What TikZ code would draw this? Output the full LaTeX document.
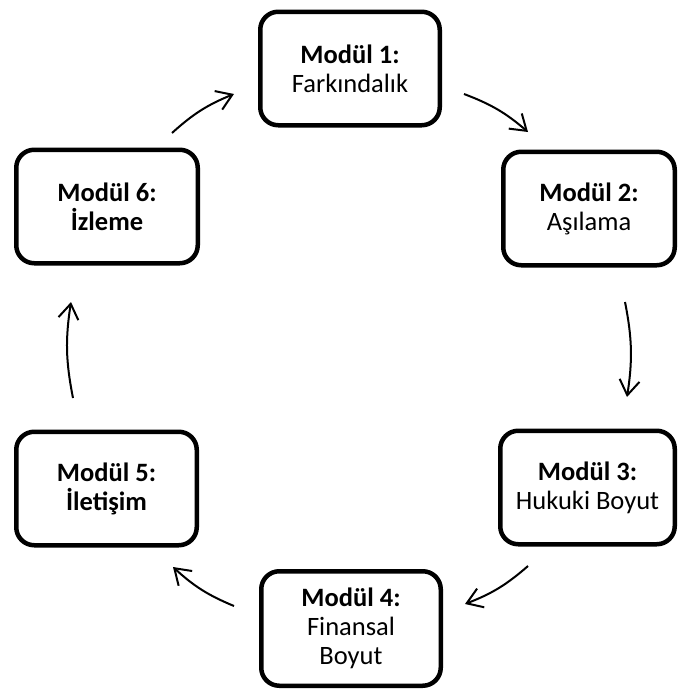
\documentclass[tikz,border=0pt]{standalone}
\usepackage{fontspec}
\setmainfont{Carlito}
\usetikzlibrary{arrows.meta}
\begin{document}
\begin{tikzpicture}[x=1pt,y=1pt,
  modbox/.style={draw, line width=4.5pt, rounded corners=18pt, align=center,
    minimum height=113.5pt, inner sep=0pt,
    font={\fontsize{26.5}{29}\selectfont}},
  flow/.style={line width=2pt, -{Straight Barb[length=15pt,width=20pt]}, bend left=10}]
\useasboundingbox (0,0) rectangle (678,-691);
\node[modbox, minimum width=179.5pt] (m1) at (350,-68.5) {\textbf{Modül 1:}\\Farkındalık};
\node[modbox, minimum width=171.5pt] (m2) at (589,-208.5) {\textbf{Modül 2:}\\Aşılama};
\node[modbox, minimum width=174.5pt] (m3) at (587.5,-487.5) {\textbf{Modül 3:}\\Hukuki Boyut};
\node[modbox, minimum width=179.5pt, minimum height=114.5pt] (m4) at (351,-628.5) {\textbf{Modül 4:}\\Finansal\\Boyut};
\node[modbox, minimum width=180.5pt] (m5) at (106.5,-488.5) {\textbf{Modül 5:}\\\textbf{İletişim}};
\node[modbox, minimum width=181.5pt] (m6) at (107,-206.5) {\textbf{Modül 6:}\\\textbf{İzleme}};
\coordinate (a1s) at (464,-94);  \coordinate (a1e) at (528,-132);
\coordinate (a2s) at (625,-302); \coordinate (a2e) at (627,-397);
\coordinate (a3s) at (528,-566); \coordinate (a3e) at (465,-604);
\coordinate (a4s) at (234,-606); \coordinate (a4e) at (173,-567);
\coordinate (a5s) at (73,-398);  \coordinate (a5e) at (71,-302);
\coordinate (a6s) at (172,-133); \coordinate (a6e) at (234,-94);
\draw[flow] (a1s) to (a1e);
\draw[flow] (a2s) to (a2e);
\draw[flow] (a3s) to (a3e);
\draw[flow] (a4s) to (a4e);
\draw[flow] (a5s) to (a5e);
\draw[flow] (a6s) to (a6e);
\end{tikzpicture}
\end{document}
